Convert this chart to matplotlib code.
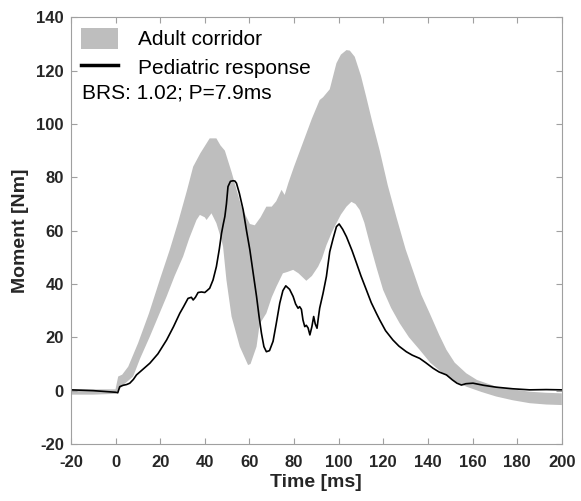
import numpy as np
import matplotlib
matplotlib.use("Agg")
import matplotlib.pyplot as plt

plt.rcParams['font.family'] = ['Liberation Sans', 'DejaVu Sans']
plt.rcParams['axes.unicode_minus'] = False

# adult corridor, upper edge
x_up = [-20, -10, 0, 1.2, 3, 5.7, 10.1, 15, 20, 24.3, 28, 32, 34.8, 38, 42.2, 45.2, 47, 49, 52, 56.4,
        60.2, 62.4, 65, 67.6, 70, 72, 74.4, 75.8, 77.5, 80, 84, 88, 91.5, 93, 96, 99, 101, 103.5,
        105, 107.2, 110, 112.4, 115, 118.4, 122, 125.9, 130, 133.3, 137, 140.8, 145, 148.3, 152,
        157.2, 162, 170.6, 178, 185.6, 193, 200]
y_up = [0.5, 0.5, 0.5, 5.3, 6, 9, 17.8, 29, 42, 52.8, 63, 75, 84, 89, 94.6, 94.6, 92, 90, 82, 69,
        62.5, 62, 65, 69, 69, 71, 75.3, 73.4, 78, 84, 93, 102, 109, 110, 113, 122.8, 126, 127.7,
        127.5, 125.2, 118, 110, 101, 90, 77, 65, 53, 45, 36, 29, 21, 15.3, 10.5,
        6.5, 4, 1.5, 0.5, -0.4, -0.8, -1]

# adult corridor, lower edge
x_lo = [-20, -10, 0, 1.2, 4, 7.9, 11, 15.4, 19, 22.9, 26.5, 30.3, 33, 36.3, 37.8, 40, 40.8, 43,
        45.2, 47.5, 48.2, 49.7, 52, 55.7, 59.4, 60.5, 63.2, 64.6, 67.6, 70, 72.1, 75, 77, 79.6,
        82, 85.5, 88, 90.8, 92.5, 94.5, 97, 99, 101, 103.5, 105.7, 107.5, 109.4, 111.5, 113.9,
        117, 119.9, 123.5, 127.3, 131.5, 136.3, 141, 146.7, 152, 157.2, 164, 170.6, 178, 185.6,
        193, 200]
y_lo = [-1.5, -1.5, -1.2, 0, 2.5, 5.3, 12, 20.3, 27.5, 35.3, 43, 50.3, 57, 64, 65.9, 65, 64, 66.5,
        62.8, 56.5, 54, 41.5, 27.8, 16.5, 9.6, 10, 16.5, 25, 29, 35, 39, 44, 44.5, 45.3,
        44, 41.2, 43, 46.5, 49.5, 54.5, 59.5, 62.8, 66, 69, 70.8, 70, 67.8, 63, 55.3,
        46, 37.8, 31, 25.3, 20, 15.3, 10.5, 6.5, 3.5, 1.5, -0.5, -2.2, -3.6, -4.7,
        -5.2, -5.4]

# pediatric response
x_ped = [-20, -10, 0, 1, 1.9, 3.4, 5, 6.4, 8, 9.4, 12, 15.4, 19, 22.9, 26, 28.8, 30.5, 32.5, 34,
         34.8, 35.8, 37, 38.5, 40, 41, 42.2, 43.7, 45.2, 46.5, 47.5, 48.3, 49, 49.7, 50.4, 51.5,
         52.7, 53.5, 54.2, 55.5, 57.2, 58.7, 60.2, 61.7, 63.2, 64.3, 65.4, 66.5, 67.6, 69, 70.6,
         72, 73.6, 75, 76.3, 78, 79.6, 80.7, 81.8, 82.5, 83.3, 84, 84.8, 85.5, 86.3, 87.1, 88,
         88.8, 89.5, 90.3, 91, 91.5, 93, 94.5, 96, 97.5, 99, 100.2, 101.8, 103.5, 106, 108, 110,
         112.4, 114.6, 116.9, 118.4, 121, 124.3, 127, 130.3, 133, 136.3, 139, 142.3, 145, 148.3,
         151, 153, 155, 157, 160.2, 165, 170.6, 178, 185.6, 193, 200]
y_ped = [0.3, 0, -0.6, -0.8, 1.5, 2, 2.3, 2.8, 4.2, 5.9, 7.8, 10.3, 13.8, 19, 24, 29, 31.5, 34.6, 35,
         34, 35, 36.8, 37, 36.8, 37.5, 38.4, 41.5, 46.5, 53, 59, 62.5, 65.3, 70, 76.5, 78.5,
         78.7, 78.6, 77.8, 74, 67.8, 60, 52.8, 44, 35.3, 28, 21.5, 16.5, 14.6, 15, 18.5,
         25, 32.8, 37.5, 39.3, 38, 35.3, 32.5, 30.9, 31.5, 30.5, 26.5, 24, 24.5, 23.5, 20.9, 24,
         27.8, 25, 23.4, 28, 31, 36.5, 42.8, 52.1, 57, 61.5, 62.5, 60.5, 57.7, 52.5, 47.8, 43,
         37.8, 33, 29, 26.5, 22.5, 19, 16.7, 14.6, 13.3, 12.1, 10.5, 8.4, 7, 5.9,
         4, 2.8, 2.1, 2.6, 2.8, 2, 1.3, 0.7, 0.3, 0.4, 0.3]

xt = np.arange(-20, 201, 20)
yt = np.arange(-20, 141, 20)

fig = plt.figure(figsize=(5.81, 5.01), dpi=100)
ax = fig.add_axes([0.122, 0.1138, 0.845, 0.8517])

# corridor polygon: upper edge then lower edge reversed
poly_x = x_up + x_lo[::-1]
poly_y = y_up + y_lo[::-1]
ax.fill(poly_x, poly_y, color='#bebebe', lw=0, label='Adult corridor')
ax.plot(x_ped, y_ped, color='black', lw=1.2, label='Pediatric response')

ax.set_xlim(-20, 200)
ax.set_ylim(-20, 140)
ax.set_xticks(xt)
ax.set_yticks(yt)
ax.set_xticklabels([str(v) for v in xt], fontweight='bold')
ax.set_yticklabels([str(v) for v in yt], fontweight='bold')
ax.tick_params(direction='in', length=4, color='#a0a0a0', top=True, right=True,
               labelsize=12, labelcolor='#262626')
ax.tick_params(axis='x', pad=8)
ax.tick_params(axis='y', pad=5)
for sp in ax.spines.values():
    sp.set_color('#a0a0a0')
    sp.set_linewidth(0.8)

ax.set_xlabel('Time [ms]', fontsize=14, fontweight='bold', color='#262626', labelpad=3)
ax.set_ylabel('Moment [Nm]', fontsize=14, fontweight='bold', color='#262626', labelpad=5)

leg = ax.legend(loc='upper left', fontsize=15, frameon=False, handlelength=1.75,
                handleheight=1.2, borderaxespad=0.1, borderpad=0.4, handletextpad=0.95,
                labelspacing=0.32)
for line in leg.get_lines():
    line.set_linewidth(2.5)
ax.text(0.023, 0.822, 'BRS: 1.02; P=7.9ms', transform=ax.transAxes, fontsize=15,
        color='black', va='center', ha='left')

fig.savefig('out.png', dpi=100)
